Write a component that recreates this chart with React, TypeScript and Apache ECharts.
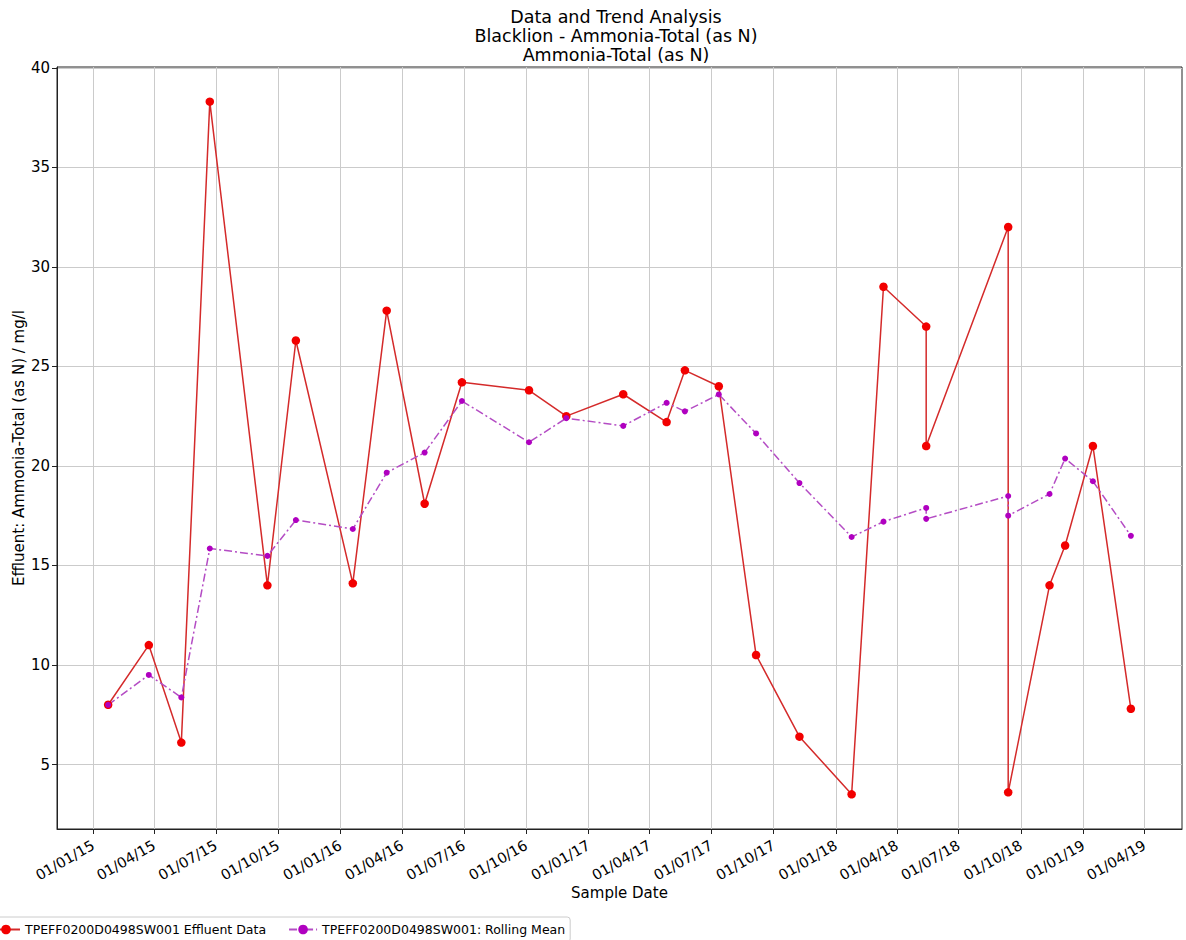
import React, { useEffect, useRef } from 'react';
import * as echarts from 'echarts';

const titleLines = ['Data and Trend Analysis', 'Blacklion - Ammonia-Total (as N)', 'Ammonia-Total (as N)'];
const xAxisName = 'Sample Date';
const yAxisName = 'Effluent: Ammonia-Total (as N) / mg/l';
const effluentName = 'TPEFF0200D0498SW001 Effluent Data';
const rollingName = 'TPEFF0200D0498SW001: Rolling Mean';

const sampleDates = [
  '2015-01-23', '2015-03-24', '2015-05-11', '2015-06-22', '2015-09-15', '2015-10-27',
  '2016-01-19', '2016-03-09', '2016-05-04', '2016-06-28', '2016-10-05', '2016-11-29',
  '2017-02-21', '2017-04-26', '2017-05-23', '2017-07-12', '2017-09-05', '2017-11-08',
  '2018-01-24', '2018-03-12', '2018-05-14', '2018-05-14', '2018-09-12', '2018-09-12',
  '2018-11-12', '2018-12-05', '2019-01-15', '2019-03-12',
];
const effluentValues = [
  8.0, 11.0, 6.1, 38.3, 14.0, 26.3,
  14.1, 27.8, 18.1, 24.2, 23.8, 22.5,
  23.6, 22.2, 24.8, 24.0, 10.5, 6.4,
  3.5, 29.0, 27.0, 21.0, 32.0, 3.6,
  14.0, 16.0, 21.0, 7.8,
];
const rollingMeanValues = [
  8.0, 9.5, 8.37, 15.85, 15.48, 17.28,
  16.83, 19.66, 20.67, 23.26, 21.19, 22.4,
  22.01, 23.17, 22.74, 23.59, 21.63, 19.14,
  16.43, 17.2, 17.89, 17.34, 18.49, 17.5,
  18.59, 20.37, 19.23, 16.49,
];
const xTickDates = [
  '2015-01-01', '2015-04-01', '2015-07-01', '2015-10-01',
  '2016-01-01', '2016-04-01', '2016-07-01', '2016-10-01',
  '2017-01-01', '2017-04-01', '2017-07-01', '2017-10-01',
  '2018-01-01', '2018-04-01', '2018-07-01', '2018-10-01',
  '2019-01-01', '2019-04-01',
];
const yTicks = [5, 10, 15, 20, 25, 30, 35, 40];

const FONT = 'DejaVu Sans';

function toTs(s: string): number {
  const [y, m, d] = s.split('-').map(Number);
  return new Date(y, m - 1, d).getTime();
}
function pad2(n: number): string {
  return n < 10 ? '0' + n : String(n);
}
function fmtDate(v: number): string {
  const d = new Date(v);
  return pad2(d.getDate()) + '/' + pad2(d.getMonth() + 1) + '/' + pad2(d.getFullYear() % 100);
}

export default function App() {
  const ref = useRef<HTMLDivElement>(null);

  useEffect(() => {
    document.body.style.margin = '0';
    if (!ref.current) return;
    const chart = echarts.init(ref.current, undefined, { renderer: 'svg' });

    const xs = sampleDates.map(toTs);
    const xMinData = Math.min(...xs);
    const xMaxData = Math.max(...xs);
    const xm = (xMaxData - xMinData) * 0.05;
    const allY = effluentValues.concat(rollingMeanValues);
    const yMinData = Math.min(...allY);
    const yMaxData = Math.max(...allY);
    const ym = (yMaxData - yMinData) * 0.05;

    const xTicks = xTickDates.map(toTs);

    chart.setOption({
      animation: false,
      backgroundColor: '#ffffff',
      textStyle: { fontFamily: FONT },
      title: {
        text: titleLines.join('\n'),
        left: 611,
        top: 2,
        textAlign: 'center',
        textStyle: { fontFamily: FONT, fontSize: 17.5, fontWeight: 'normal', color: '#000', lineHeight: 19 },
      },
      legend: {
        left: -14,
        top: 917,
        itemWidth: 28,
        itemHeight: 12,
        itemGap: 22,
        padding: [6, 5],
        borderColor: '#cccccc',
        borderWidth: 1,
        borderRadius: 3,
        textStyle: { fontFamily: FONT, fontSize: 12.5, color: '#000' },
        data: [effluentName, rollingName],
      },
      grid: {
        left: 57,
        right: 4,
        top: 67,
        bottom: 111,
        show: true,
        borderColor: '#222',
        borderWidth: 1,
        containLabel: false,
        outerBoundsMode: 'none',
      },
      xAxis: {
        type: 'value',
        min: xMinData - xm,
        max: xMaxData + xm,
        name: xAxisName,
        nameLocation: 'middle',
        nameGap: 56,
        nameMoveOverlap: false,
        nameTextStyle: { fontFamily: FONT, fontSize: 15, color: '#000' },
        axisLine: { show: true, lineStyle: { color: '#222', width: 1 } },
        axisTick: { show: true, inside: false, length: 5, customValues: xTicks, lineStyle: { color: '#222' } },
        axisLabel: {
          customValues: xTicks,
          rotate: 30,
          margin: 15,
          fontFamily: FONT,
          fontSize: 14.5,
          color: '#000',
          formatter: (v: number) => fmtDate(v),
        },
        splitLine: { show: true, lineStyle: { color: '#cbcbcb', width: 1 } },
      },
      yAxis: {
        type: 'value',
        min: yMinData - ym,
        max: yMaxData + ym,
        name: yAxisName,
        nameLocation: 'middle',
        nameGap: 31,
        nameMoveOverlap: false,
        nameTextStyle: { fontFamily: FONT, fontSize: 15, color: '#000' },
        axisLine: { show: true, lineStyle: { color: '#222', width: 1 } },
        axisTick: { show: true, inside: false, length: 5, customValues: yTicks, lineStyle: { color: '#222' } },
        axisLabel: {
          customValues: yTicks,
          margin: 7,
          fontFamily: FONT,
          fontSize: 15,
          color: '#000',
          formatter: (v: number) => String(Math.round(v)),
        },
        splitLine: { show: true, lineStyle: { color: '#cbcbcb', width: 1 } },
      },
      series: [
        {
          name: effluentName,
          type: 'line',
          data: xs.map((x, i) => [x, effluentValues[i]]),
          symbol: 'circle',
          symbolSize: 8.5,
          showSymbol: true,
          lineStyle: { color: '#d42a2a', width: 1.5 },
          itemStyle: { color: '#f20000' },
        },
        {
          name: rollingName,
          type: 'line',
          data: xs.map((x, i) => [x, rollingMeanValues[i]]),
          symbol: 'circle',
          symbolSize: 6,
          showSymbol: true,
          lineStyle: { color: '#b44cc4', width: 1.5, type: [8, 3, 2, 3] },
          itemStyle: { color: '#b000c0' },
        },
      ],
    });

    return () => {
      chart.dispose();
    };
  }, []);

  return <div ref={ref} style={{ width: 1186, height: 940 }} />;
}
